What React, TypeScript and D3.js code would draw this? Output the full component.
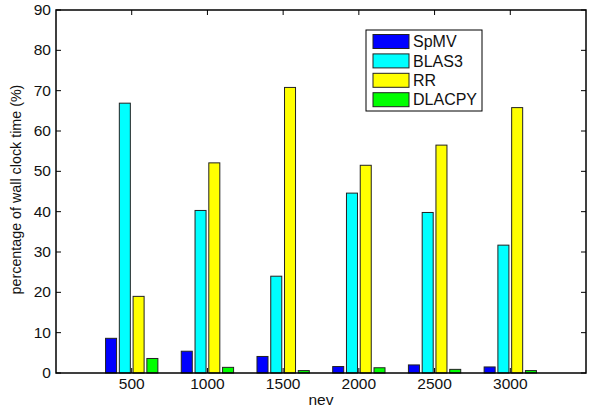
import React from 'react';
import * as d3 from 'd3';

const categories = [500, 1000, 1500, 2000, 2500, 3000];
const seriesNames = ['SpMV', 'BLAS3', 'RR', 'DLACPY'];
const seriesColors = ['#0000ff', '#00ffff', '#ffff00', '#00ff00'];
const spmv = [8.6, 5.4, 4.1, 1.6, 2.0, 1.5];
const blas3 = [66.9, 40.3, 24.0, 44.6, 39.8, 31.7];
const rr = [19.0, 52.1, 70.8, 51.5, 56.5, 65.8];
const dlacpy = [3.6, 1.4, 0.6, 1.3, 0.9, 0.6];
const yTicks = [0, 10, 20, 30, 40, 50, 60, 70, 80, 90];

const width = 589;
const height = 412;
const margin = { top: 10, right: 3, bottom: 39, left: 56 };

const App = () => {
  const innerWidth = width - margin.left - margin.right;
  const innerHeight = height - margin.top - margin.bottom;
  const values = [spmv, blas3, rr, dlacpy];

  const x = d3.scaleLinear().domain([0, 3500]).range([0, innerWidth]);
  const y = d3.scaleLinear().domain([0, 90]).range([innerHeight, 0]);

  // matlab grouped bar: group width n/(n+1.5), bar = 0.8 of slot
  const n = seriesNames.length;
  const groupW = (x(500) - x(0)) * Math.min(0.8, n / (n + 1.5));
  const slot = groupW / n;
  const barW = slot * 0.8;

  const font = 'Liberation Sans, Arial, sans-serif';

  return (
    <svg width={width} height={height} style={{ position: 'absolute', left: 0, top: 0, background: '#fff' }}>
      <g transform={`translate(${margin.left},${margin.top})`} fontFamily={font}>
        {values.map((vals, si) =>
          vals.map((v, ci) => {
            const cx = x(categories[ci]) - groupW / 2 + slot * si + slot / 2;
            return (
              <rect
                key={`${si}-${ci}`}
                x={cx - barW / 2}
                y={y(v)}
                width={barW}
                height={y(0) - y(v)}
                fill={seriesColors[si]}
                stroke="#222"
                strokeWidth={1}
              />
            );
          })
        )}
        <rect x={0} y={0} width={innerWidth} height={innerHeight} fill="none" stroke="#000" strokeWidth={1.5} />
        {yTicks.map(t => (
          <g key={t}>
            <line x1={0} x2={5} y1={y(t)} y2={y(t)} stroke="#000" />
            <line x1={innerWidth - 5} x2={innerWidth} y1={y(t)} y2={y(t)} stroke="#000" />
            <text transform={`translate(-5,${y(t)}) scale(1.11,1)`} dy="0.35em" textAnchor="end" fontSize={14} fill="#111">{t}</text>
          </g>
        ))}
        {categories.map(c => (
          <g key={c}>
            <line x1={x(c)} x2={x(c)} y1={innerHeight} y2={innerHeight - 5} stroke="#000" />
            <line x1={x(c)} x2={x(c)} y1={0} y2={5} stroke="#000" />
            <text transform={`translate(${x(c)},${innerHeight + 16}) scale(1.11,1)`} textAnchor="middle" fontSize={14} fill="#111">{c}</text>
          </g>
        ))}
        <text x={x(1750)} y={innerHeight + 32} textAnchor="middle" fontSize={15.5} fill="#111">nev</text>
        <text
          transform={`translate(${-35},${innerHeight / 2 - 2}) rotate(-90)`}
          textAnchor="middle"
          fontSize={14.3}
          fill="#111"
        >
          percentage of wall clock time (%)
        </text>
        <g transform={`translate(${366 - margin.left},${30 - margin.top})`}>
          <rect x={0} y={0} width={116} height={81} fill="#fff" stroke="#000" strokeWidth={1} />
          {seriesNames.map((s, i) => (
            <g key={s} transform={`translate(0,${11.5 + i * 19.4})`}>
              <rect x={7} y={-7} width={36} height={14} fill={seriesColors[i]} stroke="#222" />
              <text x={47} y={0} dy="0.36em" fontSize={16} fill="#111">{s}</text>
            </g>
          ))}
        </g>
      </g>
    </svg>
  );
};

export default App;
